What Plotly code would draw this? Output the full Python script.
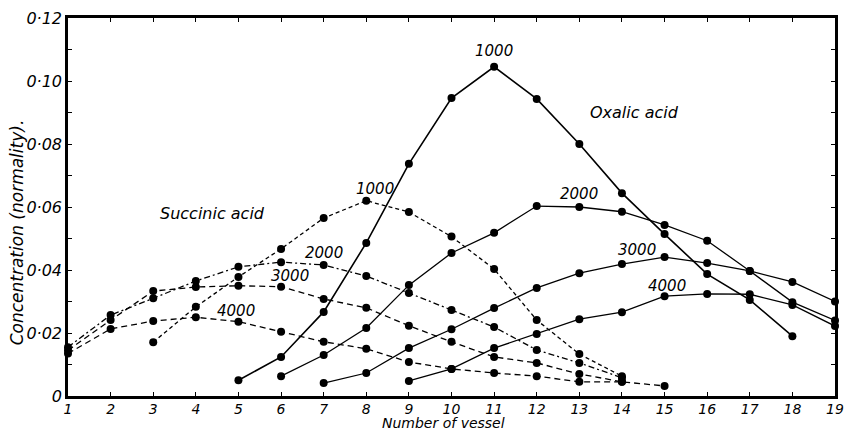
import plotly.graph_objects as go

# ---- data ----
ox_1000_x = [5, 6, 7, 8, 9, 10, 11, 12, 13, 14, 15, 16, 17, 18]
ox_1000_y = [0.005, 0.0124, 0.0267, 0.0486, 0.0737, 0.0946, 0.1045, 0.0943, 0.080, 0.0644, 0.0514, 0.0387, 0.0305, 0.019]

ox_2000_x = [6, 7, 8, 9, 10, 11, 12, 13, 14, 15, 16, 17, 18, 19]
ox_2000_y = [0.0063, 0.013, 0.0216, 0.0352, 0.0454, 0.0518, 0.0603, 0.0600, 0.0585, 0.0543, 0.0493, 0.0397, 0.0362, 0.030]

ox_3000_x = [7, 8, 9, 10, 11, 12, 13, 14, 15, 16, 17, 18, 19]
ox_3000_y = [0.0041, 0.0073, 0.0152, 0.0212, 0.0279, 0.0343, 0.039, 0.0419, 0.0441, 0.0422, 0.0397, 0.0298, 0.024]

ox_4000_x = [9, 10, 11, 12, 13, 14, 15, 16, 17, 18, 19]
ox_4000_y = [0.0048, 0.0086, 0.0152, 0.0197, 0.0244, 0.0266, 0.0317, 0.0324, 0.0323, 0.0289, 0.0222]

su_1000_x = [3, 4, 5, 6, 7, 8, 9, 10, 11, 12, 13, 14]
su_1000_y = [0.0171, 0.0283, 0.0378, 0.0467, 0.0565, 0.0620, 0.0584, 0.0506, 0.0403, 0.0241, 0.0133, 0.0063]

su_2000_x = [1, 2, 3, 4, 5, 6, 7, 8, 9, 10, 11, 12, 13, 14]
su_2000_y = [0.0155, 0.0257, 0.031, 0.0365, 0.041, 0.0425, 0.0416, 0.0381, 0.0327, 0.0273, 0.0219, 0.0146, 0.0105, 0.0058]

su_3000_x = [1, 2, 3, 4, 5, 6, 7, 8, 9, 10, 11, 12, 13, 14]
su_3000_y = [0.0145, 0.0241, 0.0333, 0.0346, 0.035, 0.0347, 0.0308, 0.028, 0.0223, 0.0172, 0.0124, 0.0105, 0.007, 0.0045]

su_4000_x = [1, 2, 3, 4, 5, 6, 7, 8, 9, 10, 11, 12, 13, 14, 15]
su_4000_y = [0.0135, 0.0213, 0.0238, 0.025, 0.0236, 0.0204, 0.0172, 0.015, 0.0108, 0.0086, 0.0073, 0.0063, 0.0045, 0.0045, 0.0032]

x_ticks = list(range(1, 20))
y_ticks = [0, 0.02, 0.04, 0.06, 0.08, 0.10, 0.12]
y_ticktext = ["0", "0·02", "0·04", "0·06", "0·08", "0·10", "0·12"]

# labels: (text, x, y, size)
labels = [
    ("1000", 11.0, 0.1095, 15),
    ("Oxalic acid", 14.3, 0.0900, 16),
    ("2000", 13.0, 0.0640, 15),
    ("3000", 14.35, 0.0465, 15),
    ("4000", 15.05, 0.0350, 15),
    ("Succinic acid", 4.4, 0.0580, 16),
    ("1000", 8.2, 0.0658, 15),
    ("2000", 7.0, 0.0455, 15),
    ("3000", 6.2, 0.0380, 15),
    ("4000", 4.95, 0.0270, 15),
]

FONT = "DejaVu Sans"
fig = go.Figure()

ox_series = [(ox_1000_x, ox_1000_y, 1.6), (ox_2000_x, ox_2000_y, 1.3),
             (ox_3000_x, ox_3000_y, 1.3), (ox_4000_x, ox_4000_y, 1.3)]
for xs, ys, w in ox_series:
    fig.add_trace(go.Scatter(x=xs, y=ys, mode="lines+markers", cliponaxis=False,
                             line=dict(color="black", width=w),
                             marker=dict(color="black", size=8),
                             showlegend=False))

su_series = [(su_1000_x, su_1000_y, "4px,3px"), (su_2000_x, su_2000_y, "6px,3px,2px,3px"),
             (su_3000_x, su_3000_y, "6px,4px"), (su_4000_x, su_4000_y, "6px,4px")]
for xs, ys, d in su_series:
    fig.add_trace(go.Scatter(x=xs, y=ys, mode="lines+markers", cliponaxis=False,
                             line=dict(color="black", width=1.3, dash=d),
                             marker=dict(color="black", size=8),
                             showlegend=False))

for t, x, y, s in labels:
    fig.add_annotation(x=x, y=y, text=t, showarrow=False,
                       font=dict(family=FONT, size=s, color="black", style="italic"))

fig.add_annotation(xref="paper", yref="paper", x=-0.066, y=0.434, text="Concentration (normality).",
                   textangle=-90, showarrow=False, xanchor="center", yanchor="middle",
                   font=dict(family=FONT, size=17, color="black", style="italic"))

fig.add_annotation(xref="paper", yref="paper", x=0.49, y=-0.0952, text="Number of vessel",
                   showarrow=False, xanchor="center", yanchor="bottom", borderpad=0,
                   font=dict(family=FONT, size=14, color="black", style="italic"))

fig.update_layout(
    width=844, height=432,
    margin=dict(l=68, r=9, t=18, b=36, autoexpand=False),
    paper_bgcolor="white", plot_bgcolor="white",
    font=dict(family=FONT, color="black", style="italic"),
    xaxis=dict(range=[1, 19], tickvals=x_ticks, ticktext=[str(v) for v in x_ticks],
               showgrid=False, zeroline=False, showline=True, linecolor="black",
               linewidth=2.5, mirror="ticks", ticks="inside", ticklen=4,
               tickcolor="black", ticklabeloverflow="allow", ticklabelstandoff=-2,
               automargin=False,
               tickfont=dict(size=14, family=FONT, style="italic")),
    yaxis=dict(range=[0, 0.12], tickvals=y_ticks, ticktext=y_ticktext,
               showgrid=False, zeroline=False, showline=True, linecolor="black",
               linewidth=2.5, mirror="ticks", ticks="inside", ticklen=4,
               tickcolor="black", ticklabeloverflow="allow", automargin=False,
               tickfont=dict(size=16, family=FONT, style="italic"),
               minor=dict(dtick=0.01, ticks="inside", ticklen=4, tickcolor="black", showgrid=False)),
)

fig.write_html("out.html")
